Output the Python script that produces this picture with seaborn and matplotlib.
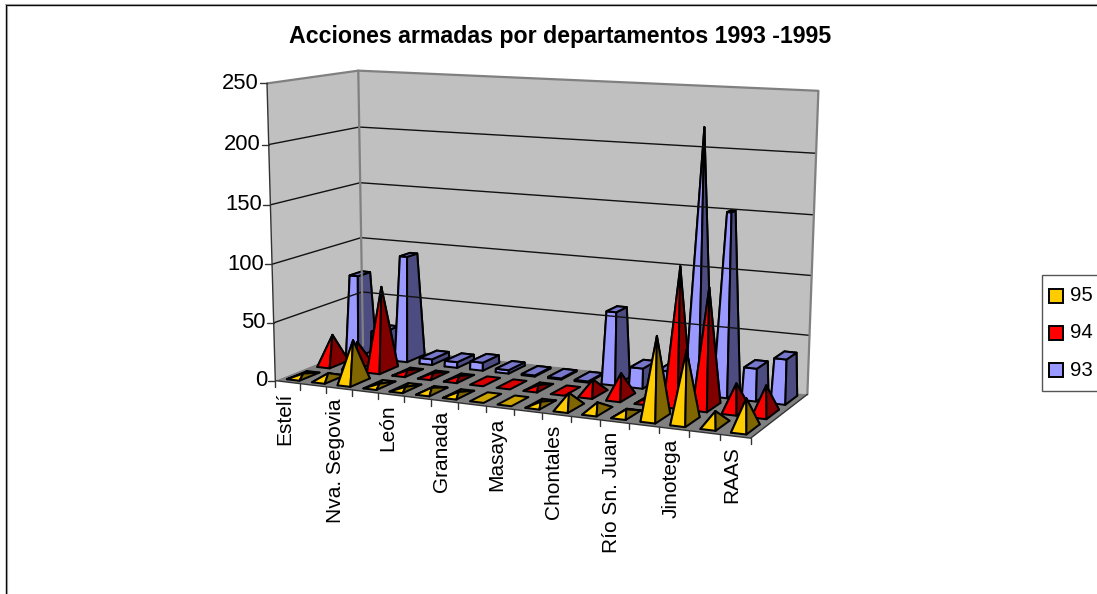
import matplotlib
matplotlib.use("Agg")
import matplotlib.pyplot as plt
import numpy as np
import seaborn as sns
from matplotlib.patches import Rectangle

# Values, one per department (only every second name is shown)
departments = ["Estelí", "", "Nva. Segovia", "", "León", "", "Granada", "", "Masaya", "",
               "Chontales", "", "Río Sn. Juan", "", "Jinotega", "", "RAAS"]
series_95 = [2, 5, 36, 1, 1, 3, 2, 0, 0, 2, 12, 7, 4, 66, 57, 11, 24]
series_94 = [26, 22, 73, 2, 2, 2, 0, 0, 2, 0, 12, 20, 3, 113, 98, 22, 23]
series_93 = [72, 24, 93, 5, 5, 7, 3, 1, 1, 1, 62, 17, 17, 219, 152, 27, 37]
series_names = ["95", "94", "93"]
y_ticks = [0, 50, 100, 150, 200, 250]

sns.set_theme(style="white")
plt.rcParams['font.family'] = ['Liberation Sans', 'DejaVu Sans']

# face, side, flat top
gold = ("#FFCC00", "#806600", "#CCA300")
red = ("#FF0000", "#800000", "#D90000")
blue = ("#9999FF", "#4C4C80", "#7777CC")

# box of the chart: (category, series depth, value) -> picture pixels
box_3d = [(0, 0, 0), (17, 0, 0), (17, 3, 0), (0, 3, 0), (0, 0, 250), (17, 3, 250), (0, 3, 250)]
box_px = [(276, 377), (751.5, 440.5), (807, 392), (362, 349), (265.5, 85), (818, 91), (360, 69)]

rows = []
rhs = []
for (u, v, h), (px, py) in zip(box_3d, box_px):
    rows.append([u, v, h, 1, 0, 0, 0, 0, -px * u, -px * v, -px * h])
    rhs.append(px)
    rows.append([0, 0, 0, 0, u, v, h, 1, -py * u, -py * v, -py * h])
    rhs.append(py)
sol = np.linalg.lstsq(np.array(rows, float), np.array(rhs, float), rcond=None)[0]
P = np.append(sol, 1).reshape(3, 4)


def proj(u, v, h=0):
    p = P @ np.array([u, v, h, 1.0])
    return p[0] / p[2], p[1] / p[2]


fig = plt.figure(figsize=(10.97, 5.94), dpi=100)
ax = fig.add_axes([0, 0, 1, 1])
ax.set_xlim(0, 1097)
ax.set_ylim(594, 0)
ax.axis("off")


def face(points, color, lw=1.45, edge="black"):
    xy = [proj(*p) for p in points]
    ax.fill([q[0] for q in xy], [q[1] for q in xy], facecolor=color, edgecolor=edge,
            linewidth=lw, joinstyle="round")


def draw_mark(cat, row, value, colors, top_max=None):
    cu, cv = cat + 0.5, row + 0.5
    du, dv = 0.25, 0.33
    a, b, c, d = (cu - du, cv - dv), (cu + du, cv - dv), (cu + du, cv + dv), (cu - du, cv + dv)
    if value == 0:
        face([(*a, 0), (*b, 0), (*c, 0), (*d, 0)], colors[2])
        return
    # blue series narrows towards its largest value, the others end in a point
    k = 0.0 if top_max is None else 1 - value / top_max
    ta = (cu - du * k, cv - dv * k, value)
    tb = (cu + du * k, cv - dv * k, value)
    tc = (cu + du * k, cv + dv * k, value)
    td = (cu - du * k, cv + dv * k, value)
    face([(*d, 0), (*c, 0), tc, td], colors[1])
    face([(*a, 0), (*d, 0), td, ta], colors[1])
    face([(*a, 0), (*b, 0), tb, ta], colors[0])
    face([(*b, 0), (*c, 0), tc, tb], colors[1])
    if k > 0:
        face([ta, tb, tc, td], colors[2])


# walls and floor
face([(0, 0, 0), (0, 3, 0), (0, 3, 250), (0, 0, 250)], "#C0C0C0", lw=0, edge="none")
face([(0, 3, 0), (17, 3, 0), (17, 3, 250), (0, 3, 250)], "#C0C0C0", lw=0, edge="none")
face([(0, 0, 0), (17, 0, 0), (17, 3, 0), (0, 3, 0)], "#808080", lw=0, edge="none")

for t in y_ticks[1:-1]:
    xy = [proj(0, 0, t), proj(0, 3, t), proj(17, 3, t)]
    ax.plot([q[0] for q in xy], [q[1] for q in xy], color="#111111", lw=1.0)

xy = [proj(0, 0, 250), proj(0, 3, 250), proj(17, 3, 250), proj(17, 3, 0)]
ax.plot([q[0] for q in xy], [q[1] for q in xy], color="#808080", lw=1.6)
xy = [proj(0, 3, 0), proj(0, 3, 250)]
ax.plot([q[0] for q in xy], [q[1] for q in xy], color="#808080", lw=1.6)

# axes lines, ticks and labels
xy = [proj(0, 0, 250), proj(0, 0, 0), proj(17, 0, 0), proj(17, 3, 0)]
ax.plot([q[0] for q in xy], [q[1] for q in xy], color="#333333", lw=1.0)
for t in y_ticks:
    x0, y0 = proj(0, 0, t)
    ax.plot([x0 - 7, x0], [y0, y0], color="#333333", lw=1.0)
    ax.text(x0 - 8, y0, str(t), ha="right", va="center", fontsize=15.8, color="black")
for i in range(len(departments) + 1):
    x0, y0 = proj(i, 0, 0)
    ax.plot([x0, x0], [y0, y0 + 6], color="#333333", lw=1.0)
for i, name in enumerate(departments):
    if name:
        x0, y0 = proj(i + 0.5, 0, 0)
        ax.text(x0 - 3, y0 + 10, name, rotation=90, ha="center", va="top", fontsize=15, color="black")

# marks, from the back row to the front one
for i, value in enumerate(series_93):
    draw_mark(i, 2, value, blue, top_max=max(series_93))
for i, value in enumerate(series_94):
    draw_mark(i, 1, value, red)
for i, value in enumerate(series_95):
    draw_mark(i, 0, value, gold)

ax.text(560, 36, "Acciones armadas por departamentos 1993 -1995", ha="center", va="center",
        fontsize=16.7, fontweight="bold", color="black")

# legend box, running off the right edge as in the picture
ax.add_patch(Rectangle((1041.5, 275), 70, 116, facecolor="white", edgecolor="#555555", linewidth=1.0))
for name, colors, y0 in zip(series_names, (gold, red, blue), (295.5, 332.5, 370)):
    ax.add_patch(Rectangle((1049, y0 - 7), 14, 14, facecolor=colors[0], edgecolor="black", linewidth=1.4))
    ax.text(1070, y0, name, ha="left", va="center", fontsize=14.7, color="black")

# frame round the chart
ax.plot([5.5, 5.5, 1097], [594, 5, 5], color="black", lw=1.0)
ax.plot([6.7, 6.7], [594, 6], color="#999999", lw=0.8)
ax.plot([5, 1097], [4, 4], color="#999999", lw=0.8)

fig.savefig("out.png", dpi=100)
